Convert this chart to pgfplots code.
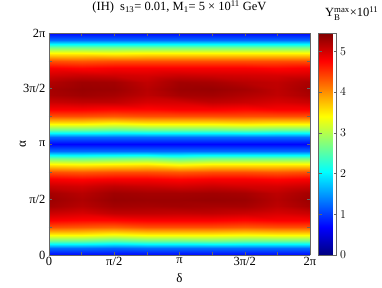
\documentclass[border=0pt]{standalone}
\usepackage{amsmath}
\usepackage{fontspec}
\setmainfont{Liberation Serif}
\usepackage{pgfplots}
\pgfplotsset{compat=1.18}
\begin{document}
\begin{tikzpicture}
\path[use as bounding box] (-49pt,-32pt) rectangle (333pt,255pt);
\begin{axis}[
  at={(0,0)}, anchor=south west,
  scale only axis, width=261pt, height=222pt,
  xmin=0, xmax=2, ymin=0, ymax=2,
  view={0}{90},
  xtick={0,0.25,0.5,0.75,1,1.25,1.5,1.75,2},
  xticklabels={0,,π/2,,π,,3π/2,,2π},
  ytick={0,0.25,0.5,0.75,1,1.25,1.5,1.75,2},
  yticklabels={0,,π/2,,π,,3π/2,,2π},
  tick align=inside, major tick length=3pt,
  tick style={black!60, thin},
  axis line style={black!60, thin},
  tick label style={font=\fontsize{12.5}{14}\selectfont},
  xticklabel style={yshift=1pt},
  label style={font=\fontsize{13}{15}\selectfont},
  xlabel={δ}, ylabel={α},
  xlabel style={at={(axis description cs:0.5,-0.104)}, anchor=center},
  ylabel style={at={(axis description cs:-0.1,0.5)}, anchor=center},
  title={(IH)~~s\textsubscript{13}= 0.01, M\textsubscript{1}= 5 × 10\textsuperscript{11} GeV},
  title style={font=\fontsize{12.5}{14}\selectfont, at={(0.5,1)}, anchor=base, yshift=16pt},
  colormap/jet,
  point meta min=0, point meta max=5.45,
  colorbar,
  colorbar style={
    at={([xshift=15pt]parent axis.north east)}, anchor=north west,
    width=18pt,
    ytick={0,1,2,3,4,5},
    tick label style={font=\fontsize{12.5}{14}\selectfont},
    tick style={black!60, thin},
    axis line style={black!60, thin},
    major tick length=3pt,
  },
]
\addplot3[surf, shader=interp, mesh/cols=9] table {
x y z
0 0 0.7
0.25 0 0.7
0.5 0 0.7
0.75 0 0.7
1 0 0.7
1.25 0 0.7
1.5 0 0.7
1.75 0 0.7
2 0 0.7
0 0.0625 1.25
0.25 0.0625 1.25
0.5 0.0625 1.2
0.75 0.0625 1.25
1 0.0625 1.25
1.25 0.0625 1.25
1.5 0.0625 1.25
1.75 0.0625 1.25
2 0.0625 1.25
0 0.125 2.6
0.25 0.125 2.6
0.5 0.125 2.5
0.75 0.125 2.6
1 0.125 2.6
1.25 0.125 2.65
1.5 0.125 2.6
1.75 0.125 2.6
2 0.125 2.6
0 0.1875 3.55
0.25 0.1875 3.55
0.5 0.1875 3.45
0.75 0.1875 3.55
1 0.1875 3.55
1.25 0.1875 3.55
1.5 0.1875 3.5
1.75 0.1875 3.55
2 0.1875 3.55
0 0.25 4.35
0.25 0.25 4.3
0.5 0.25 4.25
0.75 0.25 4.35
1 0.25 4.35
1.25 0.25 4.35
1.5 0.25 4.3
1.75 0.25 4.35
2 0.25 4.35
0 0.3125 4.8
0.25 0.3125 4.75
0.5 0.3125 4.75
0.75 0.3125 4.8
1 0.3125 4.8
1.25 0.3125 4.8
1.5 0.3125 4.75
1.75 0.3125 4.8
2 0.3125 4.8
0 0.375 5.05
0.25 0.375 4.98
0.5 0.375 5.1
0.75 0.375 5.1
1 0.375 5.08
1.25 0.375 5.1
1.5 0.375 5.05
1.75 0.375 4.98
2 0.375 5.05
0 0.4375 5.25
0.25 0.4375 5.15
0.5 0.4375 5.26
0.75 0.4375 5.24
1 0.4375 5.26
1.25 0.4375 5.24
1.5 0.4375 5.24
1.75 0.4375 5.12
2 0.4375 5.25
0 0.5 5.3
0.25 0.5 5.2
0.5 0.5 5.32
0.75 0.5 5.3
1 0.5 5.3
1.25 0.5 5.32
1.5 0.5 5.3
1.75 0.5 5.16
2 0.5 5.3
0 0.5625 5.25
0.25 0.5625 5.15
0.5 0.5625 5.28
0.75 0.5625 5.25
1 0.5625 5.25
1.25 0.5625 5.27
1.5 0.5625 5.24
1.75 0.5625 5.12
2 0.5625 5.25
0 0.625 5.05
0.25 0.625 5.0
0.5 0.625 5.1
0.75 0.625 5.05
1 0.625 5.0
1.25 0.625 5.05
1.5 0.625 5.0
1.75 0.625 4.98
2 0.625 5.05
0 0.6875 4.8
0.25 0.6875 4.75
0.5 0.6875 4.8
0.75 0.6875 4.8
1 0.6875 4.75
1.25 0.6875 4.8
1.5 0.6875 4.8
1.75 0.6875 4.75
2 0.6875 4.8
0 0.75 4.35
0.25 0.75 4.3
0.5 0.75 4.35
0.75 0.75 4.35
1 0.75 4.3
1.25 0.75 4.35
1.5 0.75 4.35
1.75 0.75 4.3
2 0.75 4.35
0 0.8125 3.55
0.25 0.8125 3.5
0.5 0.8125 3.55
0.75 0.8125 3.6
1 0.8125 3.45
1.25 0.8125 3.55
1.5 0.8125 3.55
1.75 0.8125 3.55
2 0.8125 3.55
0 0.875 2.6
0.25 0.875 2.55
0.5 0.875 2.6
0.75 0.875 2.65
1 0.875 2.5
1.25 0.875 2.6
1.5 0.875 2.6
1.75 0.875 2.6
2 0.875 2.6
0 0.9375 1.25
0.25 0.9375 1.25
0.5 0.9375 1.25
0.75 0.9375 1.25
1 0.9375 1.25
1.25 0.9375 1.25
1.5 0.9375 1.25
1.75 0.9375 1.25
2 0.9375 1.25
0 1 0.7
0.25 1 0.7
0.5 1 0.7
0.75 1 0.7
1 1 0.7
1.25 1 0.7
1.5 1 0.7
1.75 1 0.7
2 1 0.7
0 1.0625 1.25
0.25 1.0625 1.25
0.5 1.0625 1.25
0.75 1.0625 1.25
1 1.0625 1.25
1.25 1.0625 1.25
1.5 1.0625 1.25
1.75 1.0625 1.25
2 1.0625 1.25
0 1.125 2.6
0.25 1.125 2.6
0.5 1.125 2.55
0.75 1.125 2.6
1 1.125 2.6
1.25 1.125 2.6
1.5 1.125 2.65
1.75 1.125 2.6
2 1.125 2.6
0 1.1875 3.55
0.25 1.1875 3.55
0.5 1.1875 3.45
0.75 1.1875 3.55
1 1.1875 3.55
1.25 1.1875 3.55
1.5 1.1875 3.6
1.75 1.1875 3.55
2 1.1875 3.55
0 1.25 4.35
0.25 1.25 4.35
0.5 1.25 4.3
0.75 1.25 4.35
1 1.25 4.35
1.25 1.25 4.35
1.5 1.25 4.35
1.75 1.25 4.35
2 1.25 4.35
0 1.3125 4.8
0.25 1.3125 4.8
0.5 1.3125 4.75
0.75 1.3125 4.75
1 1.3125 4.8
1.25 1.3125 4.8
1.5 1.3125 4.75
1.75 1.3125 4.8
2 1.3125 4.8
0 1.375 5.05
0.25 1.375 5.1
0.5 1.375 5.1
0.75 1.375 4.98
1 1.375 5.0
1.25 1.375 5.1
1.5 1.375 5.05
1.75 1.375 4.98
2 1.375 5.05
0 1.4375 5.22
0.25 1.4375 5.28
0.5 1.4375 5.24
0.75 1.4375 5.12
1 1.4375 5.24
1.25 1.4375 5.26
1.5 1.4375 5.18
1.75 1.4375 5.1
2 1.4375 5.22
0 1.5 5.25
0.25 1.5 5.32
0.5 1.5 5.3
0.75 1.5 5.15
1 1.5 5.3
1.25 1.5 5.32
1.5 1.5 5.25
1.75 1.5 5.12
2 1.5 5.27
0 1.5625 5.18
0.25 1.5625 5.28
0.5 1.5625 5.26
0.75 1.5625 5.1
1 1.5625 5.26
1.25 1.5625 5.24
1.5 1.5625 5.15
1.75 1.5625 5.1
2 1.5625 5.22
0 1.625 5.0
0.25 1.625 5.05
0.5 1.625 5.02
0.75 1.625 4.98
1 1.625 5.05
1.25 1.625 5.02
1.5 1.625 5.0
1.75 1.625 4.98
2 1.625 5.0
0 1.6875 4.8
0.25 1.6875 4.75
0.5 1.6875 4.8
0.75 1.6875 4.8
1 1.6875 4.8
1.25 1.6875 4.8
1.5 1.6875 4.8
1.75 1.6875 4.75
2 1.6875 4.8
0 1.75 4.35
0.25 1.75 4.3
0.5 1.75 4.35
0.75 1.75 4.35
1 1.75 4.35
1.25 1.75 4.35
1.5 1.75 4.35
1.75 1.75 4.35
2 1.75 4.35
0 1.8125 3.55
0.25 1.8125 3.55
0.5 1.8125 3.5
0.75 1.8125 3.55
1 1.8125 3.55
1.25 1.8125 3.55
1.5 1.8125 3.55
1.75 1.8125 3.55
2 1.8125 3.55
0 1.875 2.6
0.25 1.875 2.6
0.5 1.875 2.6
0.75 1.875 2.6
1 1.875 2.6
1.25 1.875 2.6
1.5 1.875 2.6
1.75 1.875 2.6
2 1.875 2.6
0 1.9375 1.25
0.25 1.9375 1.25
0.5 1.9375 1.25
0.75 1.9375 1.25
1 1.9375 1.25
1.25 1.9375 1.25
1.5 1.9375 1.25
1.75 1.9375 1.25
2 1.9375 1.25
0 2 0.7
0.25 2 0.7
0.5 2 0.7
0.75 2 0.7
1 2 0.7
1.25 2 0.7
1.5 2 0.7
1.75 2 0.7
2 2 0.7
};
\end{axis}
\node[anchor=base west, font=\fontsize{12.5}{14}\selectfont, inner sep=0pt] at (276pt,238pt) {Y$_{\text{B}}^{\text{max}}$×10\textsuperscript{11}};
\end{tikzpicture}
\end{document}
